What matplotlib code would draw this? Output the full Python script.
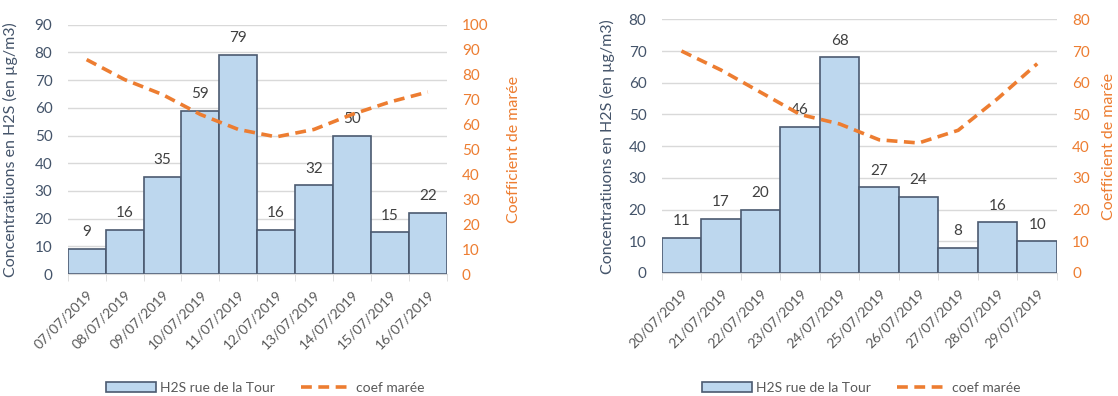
import numpy as np
import matplotlib
matplotlib.use("Agg")
import matplotlib.pyplot as plt
from matplotlib.patches import Patch
from matplotlib.lines import Line2D

plt.rcParams['font.family'] = ['Lato', 'DejaVu Sans']

# ---- data ----
dates_1 = ["07/07/2019", "08/07/2019", "09/07/2019", "10/07/2019", "11/07/2019",
           "12/07/2019", "13/07/2019", "14/07/2019", "15/07/2019", "16/07/2019"]
h2s_1 = [9, 16, 35, 59, 79, 16, 32, 50, 15, 22]
coef_1 = [86, 78, 72, 64, 58, 55, 58, 64, 69, 73]

dates_2 = ["20/07/2019", "21/07/2019", "22/07/2019", "23/07/2019", "24/07/2019",
           "25/07/2019", "26/07/2019", "27/07/2019", "28/07/2019", "29/07/2019"]
h2s_2 = [11, 17, 20, 46, 68, 27, 24, 8, 16, 10]
coef_2 = [70, 64, 57, 50, 47, 42, 41, 45, 55, 66]

BAR_FILL = "#BDD7EE"
BAR_EDGE = "#4B5A70"
ORANGE = "#ED7D31"
SLATE = "#44546A"
GRID = "#D9D9D9"
TXT = "#404040"
DASH = (0, (3, 1.8))

W, H = 1118, 396
fig = plt.figure(figsize=(W / 100, H / 100), dpi=100)


def px_axes(x0, x1, y0, y1):
    return fig.add_axes([x0 / W, 1 - y1 / H, (x1 - x0) / W, (y1 - y0) / H])


def draw_panel(ax, dates, h2s, coef, ymax_l, ymax_r, step_l, step_r, ylab_l, ylab_r):
    x = np.arange(len(dates))
    ax.bar(x, h2s, width=1.0, color=BAR_FILL, edgecolor=BAR_EDGE, linewidth=1.2, zorder=2)
    for xi, v in zip(x, h2s):
        ax.annotate(str(v), (xi, v), xytext=(0, 7), textcoords="offset points",
                    ha="center", va="bottom", fontsize=11, color=TXT, zorder=5)
    ax.set_xlim(-0.5, len(dates) - 0.5)
    ax.set_ylim(0, ymax_l)
    ax.set_yticks(np.arange(0, ymax_l + 1, step_l))
    ax.yaxis.grid(True, color=GRID, linewidth=1.0, zorder=0)
    ax.set_axisbelow(True)
    for s in ["top", "left", "right"]:
        ax.spines[s].set_visible(False)
    ax.spines["bottom"].set_color(GRID)
    ax.set_xticks(x)
    ax.set_xticklabels(dates, rotation=45, ha="right", rotation_mode="anchor",
                       fontsize=10, color="#595959")
    ax.set_xticks(np.arange(-0.5, len(dates), 1.0), minor=True)
    ax.tick_params(axis="x", which="major", length=0, pad=10)
    ax.tick_params(axis="x", which="minor", length=5, color=GRID)
    ax.tick_params(axis="y", length=0, pad=11, labelsize=11, labelcolor=SLATE)
    ax.set_ylabel(ylab_l, fontsize=11.5, color=SLATE)

    ax2 = ax.twinx()
    ax2.plot(x, coef, color=ORANGE, linewidth=2.6, linestyle=DASH, zorder=4)
    ax2.set_ylim(0, ymax_r)
    ax2.set_yticks(np.arange(0, ymax_r + 1, step_r))
    for s in ["top", "left", "right", "bottom"]:
        ax2.spines[s].set_visible(False)
    ax2.tick_params(axis="y", length=0, pad=11, labelsize=11, labelcolor=ORANGE)
    ax2.set_ylabel(ylab_r, fontsize=11.5, color=ORANGE)
    return ax2


ylab_l = "Concentratiuons en H2S (en µg/m3)"
ylab_r = "Coefficient de marée"

ax_a = px_axes(67.7, 446.7, 24.7, 274)
ax_a2 = draw_panel(ax_a, dates_1, h2s_1, coef_1, 90, 100, 10, 10, ylab_l, ylab_r)
ax_a.yaxis.set_label_coords(-0.131, 0.5)
ax_a2.yaxis.set_label_coords(1.16, 0.5)

ax_b = px_axes(661.7, 1057, 19.3, 273)
ax_b2 = draw_panel(ax_b, dates_2, h2s_2, coef_2, 80, 80, 10, 10, ylab_l, ylab_r)
ax_b.yaxis.set_label_coords(-0.118, 0.5)
ax_b2.yaxis.set_label_coords(1.115, 0.5)

handles = [Patch(facecolor=BAR_FILL, edgecolor=BAR_EDGE, linewidth=1.2),
           Line2D([0], [0], color=ORANGE, linewidth=2.6, linestyle=DASH)]
labels = ["H2S rue de la Tour", "coef marée"]
for cx in [265, 861]:
    fig.legend(handles, labels, loc="center", bbox_to_anchor=(cx / W, 1 - 388 / H),
               ncol=2, frameon=False, fontsize=10, labelcolor="#595959",
               handlelength=3.6, handleheight=0.75, columnspacing=1.9,
               handletextpad=0.3, borderpad=0.2)

fig.savefig("out.png", dpi=100)
